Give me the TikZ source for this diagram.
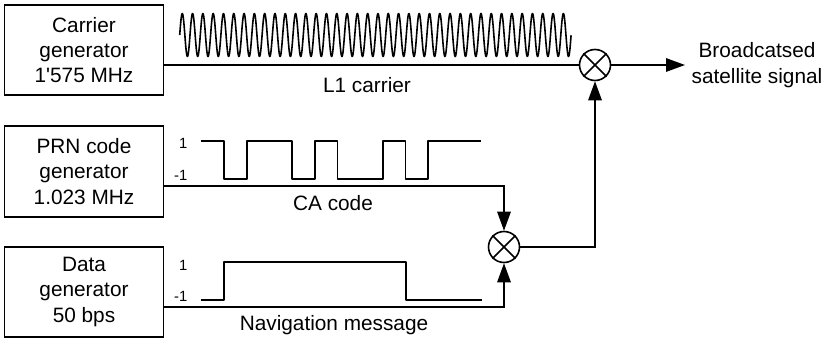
\documentclass[tikz,border=0pt]{standalone}
\usepackage{fontspec}
\setmainfont{Liberation Sans}
\usetikzlibrary{arrows.meta}
\tikzset{
  blockbox/.style={draw=black,line width=1.6pt,minimum width=159pt,minimum height=90.5pt,inner sep=0pt,align=center,font=\fontsize{20.8}{25.3}\selectfont},
  mixer/.style={circle,draw=black,line width=1.6pt,minimum size=31pt,inner sep=0pt},
  wire/.style={line width=1.5pt,draw=black},
  arrowwire/.style={wire,-{Triangle[length=19pt,width=13.5pt]}},
  wave/.style={line width=1.6pt,draw=black,line join=round},
  lbl/.style={font=\fontsize{20.8}{26}\selectfont,inner sep=0pt,align=center},
  ticklbl/.style={font=\fontsize{14.8}{16}\selectfont,inner sep=0pt,anchor=east}
}
\begin{document}
\begin{tikzpicture}[x=1pt,y=-1pt]
\useasboundingbox (0,0) rectangle (830,339);
% blocks
\node[blockbox] (b1) at (84,50) {Carrier\\generator\\1\textquotesingle 575 MHz};
\node[blockbox] (b2) at (84,171.5) {PRN code\\generator\\1.023 MHz};
\node[blockbox] (b3) at (84,292) {Data\\generator\\50 bps};
% mixers
\node[mixer] (m1) at (595,65) {};
\draw[wire] (m1.45) -- (m1.225) (m1.135) -- (m1.315);
\node[mixer] (m2) at (504,247) {};
\draw[wire] (m2.45) -- (m2.225) (m2.135) -- (m2.315);
% routing levels
\coordinate (caY) at (0,186);
\coordinate (navY) at (0,307);
\coordinate (outTip) at (685,65);
% connectors
\draw[wire] (b1.east |- m1) -- (m1.west);
\draw[arrowwire] (m1.east) -- (outTip);
\draw[arrowwire] (b2.east |- caY) -| (m2.north);
\draw[arrowwire] (b3.east |- navY) -| (m2.south);
\draw[arrowwire] (m2.east) -| (m1.south);
% carrier
\draw[wave] plot[domain=0:38,samples=900] ({179.7+\x*10.3},{35-21.5*sin(360*\x)});
% CA code
\draw[wave] (200.7,141) -- (224,141) -- (224,179) -- (246.7,179) -- (246.7,141) -- (292,141) -- (292,179) -- (314.7,179) -- (314.7,141) -- (337.3,141) -- (337.3,179) -- (382.7,179) -- (382.7,141) -- (405.3,141) -- (405.3,179) -- (428,179) -- (428,141) -- (481,141);
% navigation
\draw[wave] (200.7,300) -- (224,300) -- (224,262) -- (405.7,262) -- (405.7,300) -- (481.7,300);
% tick labels
\node[ticklbl] (t1) at (187.5,143.5) {1};
\node[ticklbl] (t2) at (187.5,175) {-1};
\node[ticklbl] (t3) at (187.5,265) {1};
\node[ticklbl] (t4) at (187.5,296) {-1};
% labels
\node[lbl] (l1) at (367,85) {L1 carrier};
\node[lbl] (l2) at (333,203) {CA code};
\node[lbl] (l3) at (334,325) {Navigation message};
\node[lbl] (l4) at (757,65.5) {Broadcatsed\\satellite signal};
\end{tikzpicture}
\end{document}
